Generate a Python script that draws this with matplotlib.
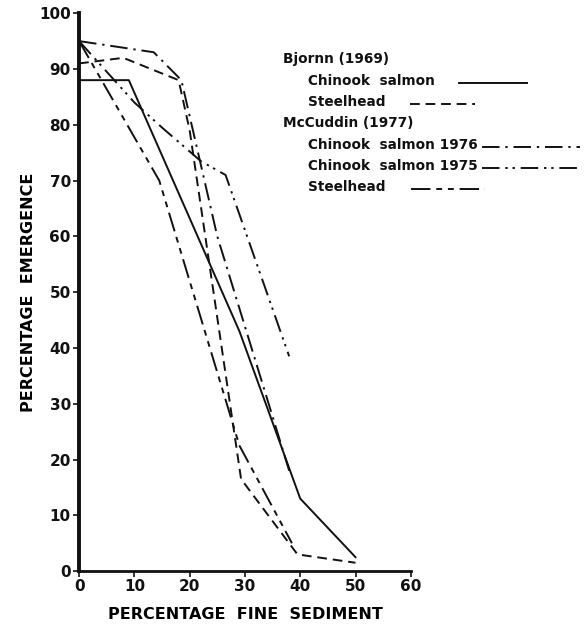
import matplotlib
matplotlib.use("Agg")
import matplotlib.pyplot as plt
from matplotlib.lines import Line2D

# --- DATA ---
bjornn_chinook_x = [0, 9, 29, 40, 50]
bjornn_chinook_y = [88, 88, 43, 13, 2.5]

bjornn_steelhead_x = [0, 8, 18, 20, 29.3, 39.5, 50]
bjornn_steelhead_y = [91, 92, 88, 79, 16.5, 3, 1.5]

mcc_chinook76_x = [0, 13.5, 18.5, 25, 38]
mcc_chinook76_y = [95, 93, 88, 60, 18]

mcc_chinook75_x = [0, 10, 15, 22, 26.5, 38]
mcc_chinook75_y = [95, 84, 79.5, 73.5, 71, 38.5]

mcc_steelhead_x = [0, 14.5, 29, 38.5]
mcc_steelhead_y = [95, 70, 22.5, 5]

x_ticks = [0, 10, 20, 30, 40, 50, 60]
y_ticks = [0, 10, 20, 30, 40, 50, 60, 70, 80, 90, 100]

# --- STYLES ---
INK = "#111111"
LW = 1.4
STYLES = {
    "solid": "-",
    "dashed": (0, (5, 3)),
    "dashdot": (0, (9, 3, 1.2, 3)),
    "dashdotdot": (0, (9, 3, 1.2, 2.5, 1.2, 3)),
    "longshort": (0, (10, 3, 3, 3, 3, 3)),
}

plt.rcParams["font.family"] = ["DejaVu Sans"]

fig = plt.figure(figsize=(5.86, 6.29), dpi=100)
ax = fig.add_axes([0.135, 0.092, 0.566, 0.887])

ax.plot(bjornn_chinook_x, bjornn_chinook_y, color=INK, lw=LW, linestyle=STYLES["solid"])
ax.plot(bjornn_steelhead_x, bjornn_steelhead_y, color=INK, lw=LW, linestyle=STYLES["dashed"])
ax.plot(mcc_chinook76_x, mcc_chinook76_y, color=INK, lw=LW, linestyle=STYLES["dashdot"])
ax.plot(mcc_chinook75_x, mcc_chinook75_y, color=INK, lw=LW, linestyle=STYLES["dashdotdot"])
ax.plot(mcc_steelhead_x, mcc_steelhead_y, color=INK, lw=LW, linestyle=STYLES["longshort"])

ax.set_xlim(0, 60)
ax.set_ylim(0, 100)
ax.set_xticks(x_ticks)
ax.set_yticks(y_ticks)
ax.set_xticklabels([str(v) for v in x_ticks], fontsize=11, fontweight="bold")
ax.set_yticklabels([str(v) for v in y_ticks], fontsize=11, fontweight="bold")
ax.tick_params(axis="both", direction="out", length=4, width=1.2, colors=INK, pad=2)

ax.spines["top"].set_visible(False)
ax.spines["right"].set_visible(False)
ax.spines["left"].set_linewidth(2.8)
ax.spines["bottom"].set_linewidth(2.0)
ax.spines["left"].set_color(INK)
ax.spines["bottom"].set_color(INK)

ax.set_xlabel("PERCENTAGE  FINE  SEDIMENT", fontsize=11.5, fontweight="bold", labelpad=9)
ax.set_ylabel("PERCENTAGE  EMERGENCE", fontsize=11.5, fontweight="bold", labelpad=2)

# --- LEGEND (text block with line samples, as in the original) ---
W, H = 586.0, 629.0


def fx(px):
    return px / W


def fy(py):
    return 1 - py / H


legend_rows = [
    ("Bjornn (1969)", 283, 59, None, None),
    ("Chinook  salmon", 308, 81, "solid", (459, 527)),
    ("Steelhead", 308, 102, "dashed", (410, 475)),
    ("McCuddin (1977)", 283, 123, None, None),
    ("Chinook  salmon 1976", 308, 145, "dashdot", (482, 580)),
    ("Chinook  salmon 1975", 308, 166, "dashdotdot", (482, 578)),
    ("Steelhead", 308, 187, "longshort", (411, 485)),
]

for label, tx, ty, style, span in legend_rows:
    fig.text(fx(tx), fy(ty), label, fontsize=9.8, fontweight="bold",
             color=INK, va="center", ha="left")
    if style is not None:
        fig.add_artist(Line2D([fx(span[0]), fx(span[1])], [fy(ty + 2), fy(ty + 2)],
                              transform=fig.transFigure, color=INK, lw=LW,
                              linestyle=STYLES[style]))

fig.savefig("out.png", dpi=100, facecolor="white")
